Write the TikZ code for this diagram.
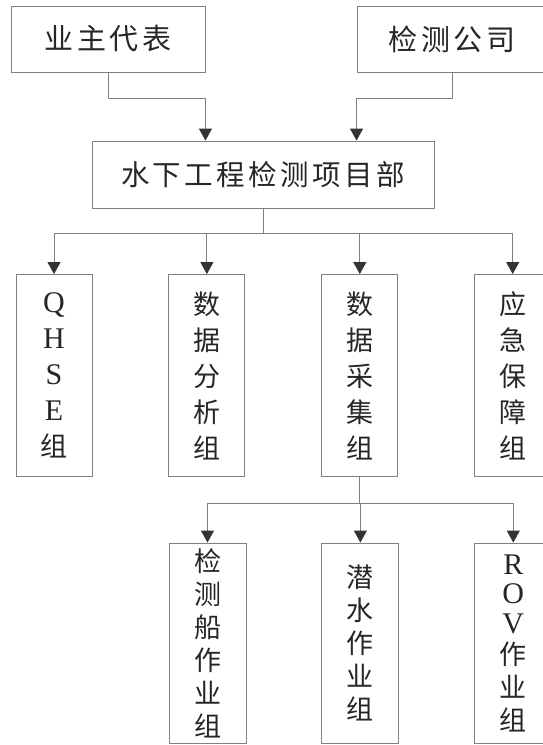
\documentclass[tikz,border=0pt]{standalone}
\usepackage{fontspec}
\setmainfont{Liberation Serif}
\newfontfamily\cjk{Noto Sans CJK SC}
\newfontfamily\cjkwide[LetterSpace=12]{Noto Sans CJK SC}
\usetikzlibrary{arrows.meta,positioning}

\newcommand{\romchar}[1]{{\rmfamily\fontsize{30}{30}\selectfont #1}}

\begin{document}
\begin{tikzpicture}[
  x=1pt, y=-1pt,
  box/.style={draw=black!50, line width=0.9pt, inner sep=0pt, text=black!85},
  headbox/.style={box, minimum height=66pt, font=\cjkwide\fontsize{29}{34}\selectfont},
  colbox/.style={box, minimum width=76pt, minimum height=202pt, align=center,
    font=\cjk\fontsize{27}{36}\selectfont},
  subbox/.style={box, minimum width=77pt, minimum height=200pt, align=center,
    font=\cjk\fontsize{27}{33}\selectfont},
  link/.style={draw=black!50, line width=0.9pt},
  arr/.style={link, -{Triangle[width=13pt, length=12pt, color=black!80]}},
  node distance=76pt,
]
\useasboundingbox (0,0) rectangle (543,745);

% ===== Top: owner and inspection company =====
\node[headbox, minimum width=194pt] (owner) at (108,39) {业主代表};
\node[headbox, minimum width=190pt] (inspco) at (452,39) {检测公司};

% ===== Project department =====
\node[headbox, minimum width=342pt, minimum height=67pt,
  font=\cjkwide\fontsize{28.5}{34}\selectfont] (proj) at (263,174.5) {水下工程检测项目部};

\draw[arr] (owner.south) -- ++(0,26) -| (owner.east |- proj.north);
\draw[arr] (inspco.south) -- ++(0,26) -| (inspco.west |- proj.north);

% ===== Groups =====
\node[colbox] (qhse) at (54,375.5) {\romchar{Q}\\\romchar{H}\\\romchar{S}\\\romchar{E}\\组};
\node[colbox, right=of qhse] (analysis) {数\\据\\分\\析\\组};
\node[colbox, right=of analysis] (collect) {数\\据\\采\\集\\组};
\node[colbox, right=of collect] (emerg) {应\\急\\保\\障\\组};

\draw[link] (proj.south) -- ++(0,25) coordinate (split);
\foreach \g in {qhse,analysis,collect,emerg}
  \draw[arr] (split) -| (\g.north);

% ===== Field teams under data collection =====
\node[subbox] (vessel) at (207.5,643) {检\\测\\船\\作\\业\\组};
\node[subbox, right=75pt of vessel] (diving) {潜\\水\\作\\业\\组};
\node[subbox, right=75pt of diving] (rov)
  {\romchar{R}\\[-4pt]\romchar{O}\\[-3pt]\romchar{V}\\[-2pt]作\\业\\组};

\draw[link] (collect.south) -- ++(0,26) coordinate (split2);
\foreach \t in {vessel,diving,rov}
  \draw[arr] (split2) -| (\t.north);

\end{tikzpicture}
\end{document}
